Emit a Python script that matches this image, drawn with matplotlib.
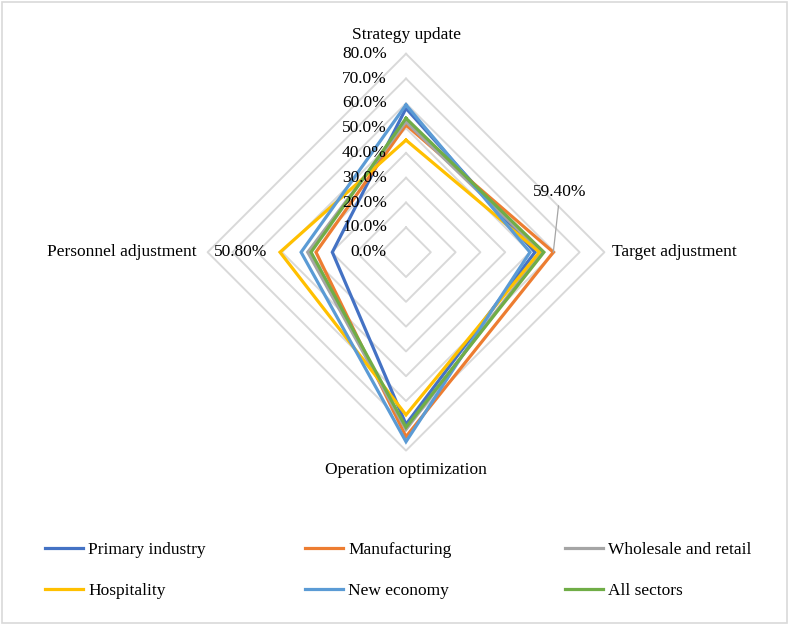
import numpy as np
import matplotlib
matplotlib.use('Agg')
import matplotlib.pyplot as plt
from matplotlib.patches import Rectangle

plt.rcParams['font.family'] = ['Liberation Serif', 'DejaVu Serif']

# Radar categories, clockwise from the top
categories = ['Strategy update', 'Target adjustment', 'Operation optimization', 'Personnel adjustment']

# Shares in percent, same order as categories
primary_industry = [58.0, 52.0, 69.4, 29.7]
manufacturing = [51.3, 59.4, 74.4, 36.3]
wholesale_retail = [52.6, 54.6, 71.5, 39.6]
hospitality = [45.2, 53.8, 65.6, 50.8]
new_economy = [59.4, 50.0, 76.4, 42.3]
all_sectors = [54.0, 55.6, 70.6, 38.3]

series_names = ['Primary industry', 'Manufacturing', 'Wholesale and retail',
                'Hospitality', 'New economy', 'All sectors']
series_values = [primary_industry, manufacturing, wholesale_retail,
                 hospitality, new_economy, all_sectors]
colors = ['#4472C4', '#ED7D31', '#A5A5A5', '#FFC000', '#5B9BD5', '#70AD47']

grid_levels = [0, 10, 20, 30, 40, 50, 60, 70, 80]
tick_labels = ['0.0%', '10.0%', '20.0%', '30.0%', '40.0%', '50.0%', '60.0%', '70.0%', '80.0%']

W, H = 789, 624
cx, cy = 406, 252.2      # pixel position of the radar centre
s = 2.48                 # pixels per percent

fig = plt.figure(figsize=(W / 100, H / 100), dpi=100)
ax = fig.add_axes([0, 0, 1, 1])
ax.set_xlim(-cx / s, (W - cx) / s)
ax.set_ylim(-(H - cy) / s, cy / s)
ax.axis('off')

angles = np.arange(len(categories)) * np.pi / 2


def to_xy(vals):
    vals = np.asarray(vals, dtype=float)
    x = vals * np.sin(angles)
    y = vals * np.cos(angles)
    return np.append(x, x[0]), np.append(y, y[0])


# diamond gridlines
for lvl in grid_levels[1:]:
    gx, gy = to_xy([lvl] * len(categories))
    ax.plot(gx, gy, color='#D9D9D9', lw=1.4, zorder=1)

# series
for name, vals, c in zip(series_names, series_values, colors):
    x, y = to_xy(vals)
    ax.plot(x, y, color=c, lw=2.3, label=name, zorder=3, solid_joinstyle='miter')

# radial tick labels
for lvl, lab in zip(grid_levels, tick_labels):
    ax.text(-7.7, lvl, lab, ha='right', va='center', fontsize=12.5, zorder=4)

# category labels
ax.text(0, 87.6, categories[0], ha='center', va='center', fontsize=12.5)
ax.text(83.1, 0, categories[1], ha='left', va='center', fontsize=12.5)
ax.text(0, -87.8, categories[2], ha='center', va='center', fontsize=12.5)
ax.text(-84.3, 0, categories[3], ha='right', va='center', fontsize=12.5)

# data labels
ax.annotate(f'{manufacturing[1]:.2f}%', xy=(manufacturing[1], 0), xytext=(62.1, 24.2),
            ha='center', va='center', fontsize=12.5,
            arrowprops=dict(arrowstyle='-', color='#A5A5A5', lw=0.9,
                            shrinkA=2, shrinkB=0))
ax.annotate(f'{hospitality[3]:.2f}%', xy=(-hospitality[3], 0), xytext=(-9, 0),
            textcoords='offset points', ha='right', va='center', fontsize=12.5)

# legend, three columns of two rows
handles, labels = ax.get_legend_handles_labels()
col_x = [45, 305, 565]
for i, x0 in enumerate(col_x):
    leg = fig.legend([handles[i], handles[i + 3]], [labels[i], labels[i + 3]],
                     loc='upper left', bbox_to_anchor=(x0 / W, 1 - 542 / H),
                     frameon=False, fontsize=12.5, handlelength=2.2,
                     handletextpad=0.3, labelspacing=1.45,
                     borderpad=0, borderaxespad=0)

# chart border
fig.patches.append(Rectangle((0.002, 0.002), 0.996, 0.995, transform=fig.transFigure,
                             fill=False, edgecolor='#D9D9D9', lw=1.2))

fig.savefig('out.png', dpi=100)
